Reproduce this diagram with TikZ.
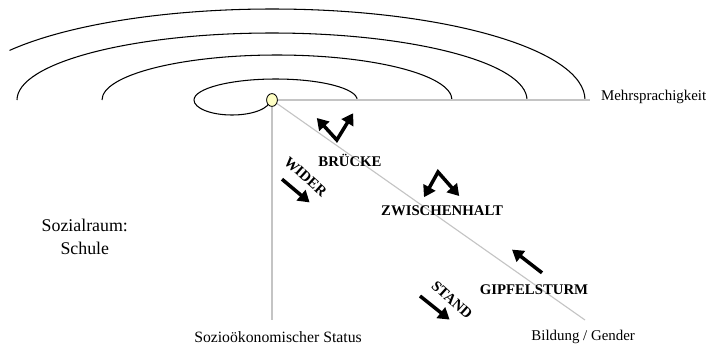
\documentclass[tikz,border=0pt]{standalone}
\usepackage{fontspec}
\setmainfont{Liberation Serif}
\usepackage{tikz}
\usetikzlibrary{arrows.meta}
\usetikzlibrary{shapes.geometric}
\definecolor{axisgray}{HTML}{C4C4C4}
\definecolor{dotfill}{HTML}{FFFFC4}

\begin{document}
\begin{tikzpicture}[>={Triangle[length=8pt,width=9.5pt]},
		ring/.style={line width=0.75pt},
		axis/.style={axisgray, line width=0.8pt},
		axislabel/.style={font=\fontsize{10.6}{12}\selectfont},
		tag/.style={font=\fontsize{10.5}{12}\selectfont\bfseries},
		move/.style={line width=2.5pt, line join=miter}]
		\useasboundingbox (0,0) rectangle (17.65,-8.65);

		\draw[ring] (6.75,-2.5) arc[start angle=0, end angle=-180, x radius=0.95, y radius=0.375]
			arc[start angle=180, end angle=0, x radius=2.04, y radius=0.525];
		\draw[ring] (2.55,-2.5) arc[start angle=180, end angle=0, x radius=4.375, y radius=1.125];
		\draw[ring] (0.425,-2.5) arc[start angle=180, end angle=0, x radius=6.375, y radius=1.675];
		\draw[ring] (14.625,-2.5) arc[start angle=0, end angle=147, x radius=7.825, y radius=2.275];

		\node[draw, ellipse, fill=dotfill, line width=0.6pt, minimum width=0.27cm, minimum height=0.32cm, inner sep=0pt] (origin) at (6.8,-2.5) {};

		\coordinate (mehrEnd) at (14.75,-2.5);
		\coordinate (statusEnd) at (6.8,-8);
		\coordinate (genderEnd) at (14.625,-8);
		\draw[axis] (origin) -- (mehrEnd);
		\draw[axis] (origin) -- (statusEnd);
		\draw[axis] (origin) -- (genderEnd);

		\node[axislabel, anchor=west, inner sep=0pt] (mehr) at (15.02,-2.42) {Mehrsprachigkeit};
		\node[axislabel, font=\fontsize{11.2}{12}\selectfont] (status) at (6.95,-8.43) {Sozioökonomischer Status};
		\node[axislabel] (gender) at (14.58,-8.43) {Bildung / Gender};
		\node[font=\fontsize{12.7}{16}\selectfont, align=center] (raum) at (2.12,-5.92) {Sozialraum:\\Schule};

		\node[tag] (bruecke) at (8.75,-4.0) {BRÜCKE};
		\node[tag] (zwischen) at (11.05,-5.27) {ZWISCHENHALT};
		\node[tag] (gipfel) at (13.35,-7.25) {GIPFELSTURM};
		\node[tag, rotate=-42, inner sep=0pt] (wider) at (7.64,-4.42) {WIDER};
		\node[tag, rotate=-42, inner sep=0pt] (stand) at (11.3,-7.5) {STAND};

		\draw[move, <->] (7.92,-2.95) -- (8.42,-3.5) -- (8.83,-2.83);
		\draw[move, <->] (10.6,-4.93) -- (10.95,-4.3) -- (11.48,-4.9);
		\draw[move, ->] (7.05,-4.48) -- (7.74,-5.06);
		\draw[move, ->] (13.55,-6.82) -- (12.8,-6.24);
		\draw[move, ->] (10.5,-7.4) -- (11.24,-7.99);

	\end{tikzpicture}
\end{document}
